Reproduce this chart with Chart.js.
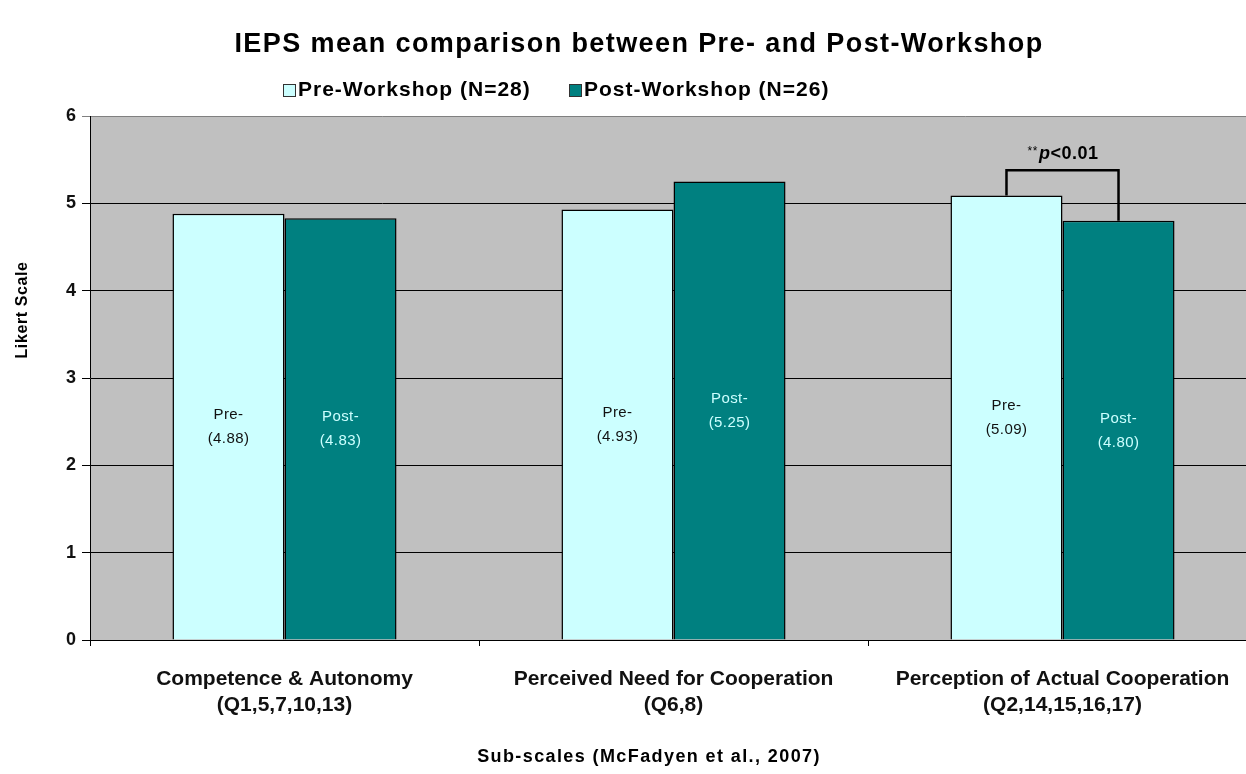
<!DOCTYPE html>
<html>
<head>
<meta charset="utf-8">
<title>IEPS mean comparison</title>
<script src="https://cdn.jsdelivr.net/npm/chart.js@4/dist/chart.umd.min.js"></script>
<style>
  html, body { margin: 0; padding: 0; background: #fff; overflow: hidden; }
  #wrap { width: 1258px; height: 774px; }
</style>
</head>
<body>
<div id="wrap"><canvas id="c" width="1258" height="774"></canvas></div>
<script>
// Sub-scale categories (two-line labels)
const categories = [
  ['Competence & Autonomy', '(Q1,5,7,10,13)'],
  ['Perceived Need for Cooperation', '(Q6,8)'],
  ['Perception of Actual Cooperation', '(Q2,14,15,16,17)']
];
// Mean Likert scores
const preValues = [4.88, 4.93, 5.09];
const postValues = [4.83, 5.25, 4.80];
const seriesNames = ['Pre-Workshop (N=28)', 'Post-Workshop (N=26)'];
const barPrefixes = ['Pre-', 'Post-'];
const yTicks = [0, 1, 2, 3, 4, 5, 6];
const chartTitle = 'IEPS mean comparison between Pre- and Post-Workshop';
const yTitle = 'Likert Scale';
const xTitle = 'Sub-scales (McFadyen et al., 2007)';
const sigLabel = '<0.01';
const sigCategory = 2;
const sigBracketLevel = 5.38;

const FONT = '"Liberation Sans", Arial, sans-serif';
const PRE_COLOR = '#CCFFFF';
const POST_COLOR = '#008080';
const PLOT_BG = '#C0C0C0';

const decor = {
  id: 'decor',
  beforeDraw(chart) {
    const { ctx, chartArea: a } = chart;
    ctx.save();
    ctx.fillStyle = PLOT_BG;
    ctx.fillRect(a.left, a.top, a.right - a.left, a.bottom - a.top);
    ctx.restore();
  },
  afterDatasetsDraw(chart) {
    const { ctx } = chart;
    const y = chart.scales.y;
    ctx.save();
    // value labels inside bars
    ctx.textAlign = 'center';
    ctx.textBaseline = 'middle';
    ctx.letterSpacing = '0.4px';
    chart.data.datasets.forEach((ds, di) => {
      const meta = chart.getDatasetMeta(di);
      meta.data.forEach((bar, i) => {
        const v = ds.data[i];
        const cy = y.getPixelForValue(v / 2);
        ctx.font = '15px ' + FONT;
        ctx.fillStyle = di === 0 ? '#111' : '#CCFFFF';
        ctx.fillText(barPrefixes[di], bar.x, cy - 12);
        ctx.fillText('(' + v.toFixed(2) + ')', bar.x, cy + 12);
      });
    });
    // significance bracket between the two bars of one category
    const pb = chart.getDatasetMeta(0).data[sigCategory];
    const qb = chart.getDatasetMeta(1).data[sigCategory];
    const topY = y.getPixelForValue(sigBracketLevel);
    ctx.strokeStyle = '#000';
    ctx.lineWidth = 2.5;
    ctx.beginPath();
    ctx.moveTo(pb.x, pb.y);
    ctx.lineTo(pb.x, topY);
    ctx.lineTo(qb.x, topY);
    ctx.lineTo(qb.x, qb.y);
    ctx.stroke();
    const mid = (pb.x + qb.x) / 2;
    ctx.letterSpacing = '0.5px';
    ctx.textAlign = 'left';
    ctx.textBaseline = 'alphabetic';
    ctx.fillStyle = '#000';
    ctx.font = '12px ' + FONT;
    const starW = ctx.measureText('**').width;
    ctx.font = 'italic bold 18px ' + FONT;
    const pW = ctx.measureText('p').width;
    ctx.font = 'bold 18px ' + FONT;
    const restW = ctx.measureText(sigLabel).width;
    let x0 = mid - (starW + pW + restW) / 2;
    const base = topY - 11;
    ctx.font = '12px ' + FONT;
    ctx.fillText('**', x0, base - 4);
    x0 += starW + 1;
    ctx.font = 'italic bold 18px ' + FONT;
    ctx.fillText('p', x0, base);
    x0 += pW;
    ctx.font = 'bold 18px ' + FONT;
    ctx.fillText(sigLabel, x0, base);
    ctx.restore();
  },
  afterDraw(chart) {
    const { ctx } = chart;
    ctx.save();
    ctx.fillStyle = '#000';
    ctx.textBaseline = 'middle';
    // title
    ctx.textAlign = 'center';
    ctx.font = 'bold 27px ' + FONT;
    ctx.letterSpacing = '1.4px';
    ctx.fillText(chartTitle, 639, 45);
    // legend
    ctx.textAlign = 'left';
    ctx.font = 'bold 21px ' + FONT;
    ctx.letterSpacing = '1px';
    const legendItems = [[283, PRE_COLOR], [569, POST_COLOR]];
    legendItems.forEach(([lx, col], i) => {
      ctx.fillStyle = col;
      ctx.fillRect(lx, 84, 12, 12);
      ctx.strokeStyle = '#333';
      ctx.lineWidth = 1;
      ctx.strokeRect(lx + 0.5, 84.5, 12, 12);
      ctx.fillStyle = '#000';
      ctx.fillText(seriesNames[i], lx + 15, 90);
    });
    // y-axis title
    ctx.letterSpacing = '0.6px';
    ctx.font = 'bold 16px ' + FONT;
    ctx.translate(23, 310);
    ctx.rotate(-Math.PI / 2);
    ctx.textAlign = 'center';
    ctx.fillText(yTitle, 0, 0);
    ctx.setTransform(1, 0, 0, 1, 0, 0);
    // x-axis title
    ctx.letterSpacing = '1.4px';
    ctx.font = 'bold 18px ' + FONT;
    ctx.fillText(xTitle, 649, 757);
    ctx.restore();
  }
};

new Chart(document.getElementById('c'), {
  type: 'bar',
  data: {
    labels: categories,
    datasets: [
      { label: seriesNames[0], data: preValues, backgroundColor: PRE_COLOR,
        borderColor: '#000', borderWidth: 1.5 },
      { label: seriesNames[1], data: postValues, backgroundColor: POST_COLOR,
        borderColor: '#000', borderWidth: 1.5 }
    ]
  },
  options: {
    responsive: false,
    animation: false,
    devicePixelRatio: 1,
    layout: { padding: { top: 116, right: 1, left: 0, bottom: 0 } },
    datasets: { bar: { categoryPercentage: 0.576, barPercentage: 1.0 } },
    plugins: {
      legend: { display: false },
      title: { display: false },
      tooltip: { enabled: false }
    },
    scales: {
      x: {
        afterFit(s) { s.height = 134; },
        grid: { offset: true, drawOnChartArea: false, color: '#000', tickLength: 6 },
        border: { display: true, color: '#000', width: 1 },
        ticks: {
          color: '#111', padding: 21,
          font: { family: FONT, size: 21, weight: 'bold', lineHeight: 1.2 }
        }
      },
      y: {
        min: 0, max: 6,
        afterFit(s) { s.width = 90; },
        afterBuildTicks(s) { s.ticks = yTicks.map(v => ({ value: v })); },
        grid: {
          color: ctx => (ctx.tick && ctx.tick.value === 6 ? '#808080' : '#000'),
          lineWidth: 1, tickLength: 8
        },
        border: { display: true, color: '#000', width: 1 },
        ticks: {
          color: '#111', padding: 6,
          font: { family: FONT, size: 18, weight: 'bold' }
        }
      }
    }
  },
  plugins: [decor]
});
</script>
</body>
</html>
